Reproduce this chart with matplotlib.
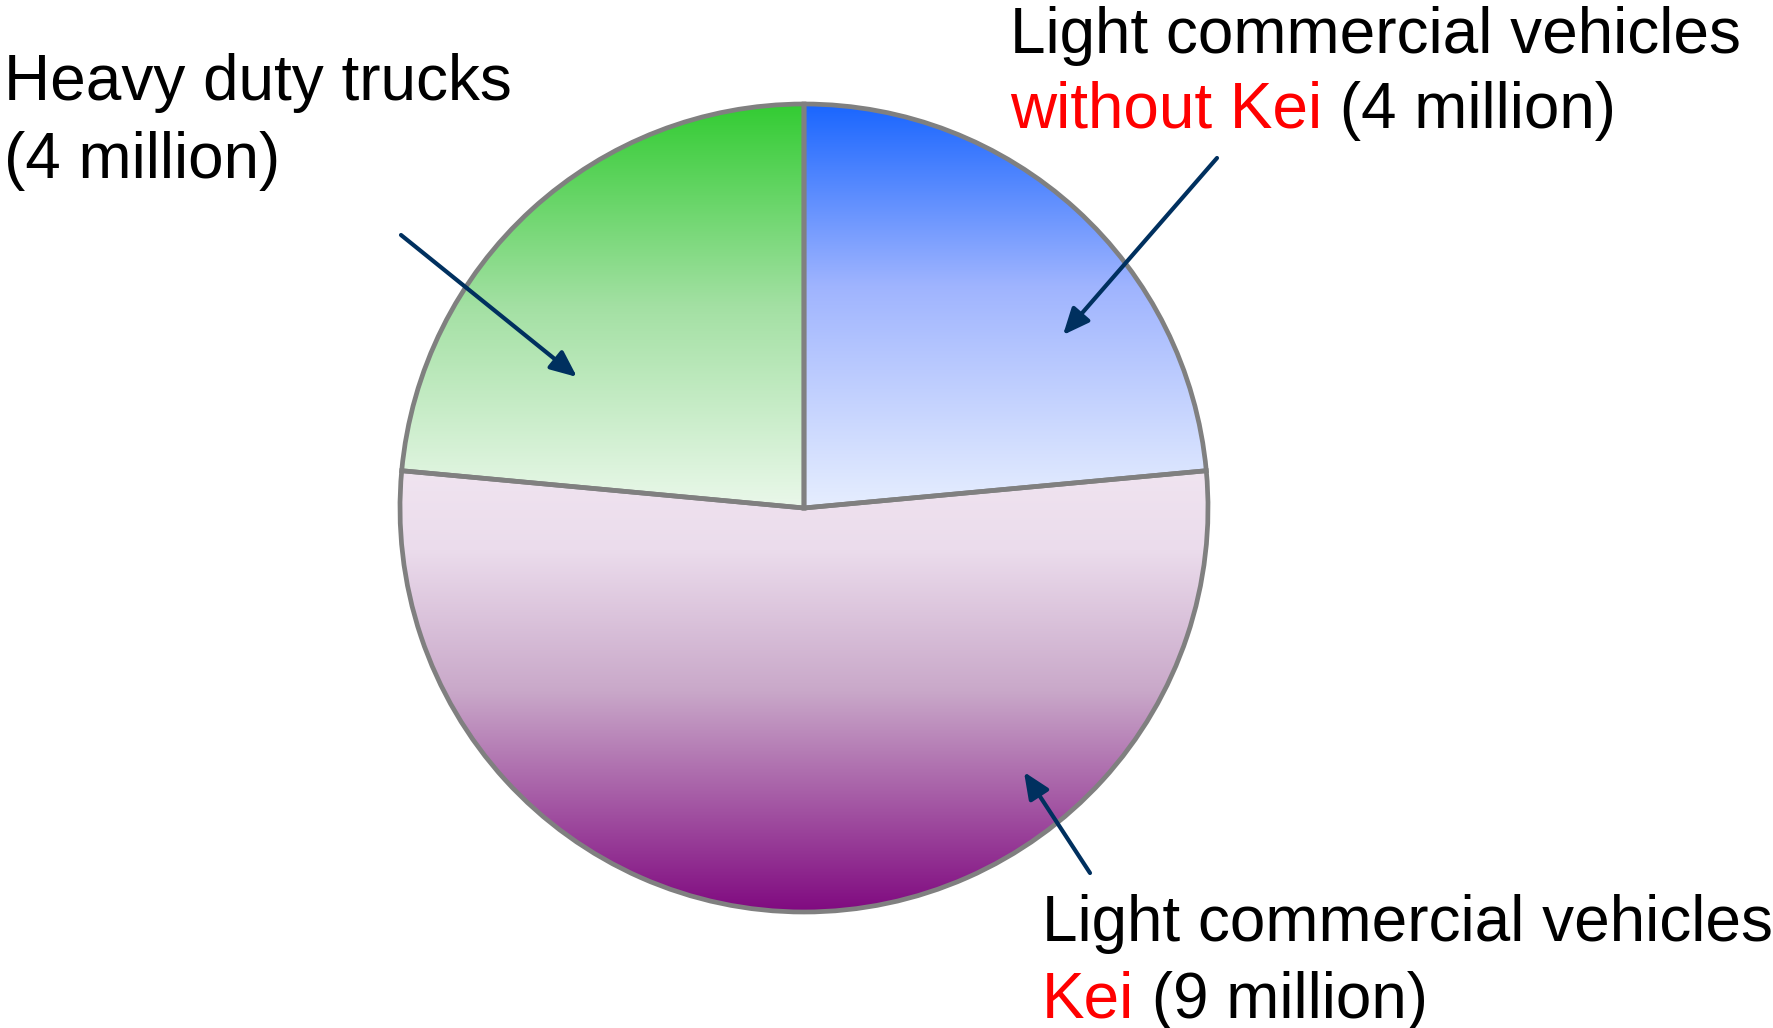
import numpy as np
import matplotlib
matplotlib.use('Agg')
import matplotlib.pyplot as plt
from matplotlib.colors import LinearSegmentedColormap

# vehicle stock, millions (clockwise from the top)
segments = ['Light commercial vehicles without Kei', 'Light commercial vehicles Kei', 'Heavy duty trucks']
values = [4, 9, 4]

# gradient stops per wedge (position, colour), top -> bottom
grad_colors = [
    [(0, '#1a66ff'), (0.45, '#9fb4fe'), (1, '#e6eeff')],
    [(0, '#f0e4f0'), (0.18, '#ebdcec'), (0.5, '#c9a8c9'), (1, '#800a80')],
    [(0, '#33cc33'), (0.5, '#a3e0a3'), (1, '#eaf8ea')],
]

W, H = 1773, 1028
fig = plt.figure(figsize=(W / 100, H / 100), dpi=100)
ax = fig.add_axes([0, 0, 1, 1])

cx, cy, r = 804, H - 508, 404
wedges, _ = ax.pie(values, startangle=90, counterclock=False,
                   center=(cx, cy), radius=r, frame=True,
                   wedgeprops=dict(facecolor='none', edgecolor='#808080', linewidth=3.4))

for w, cols in zip(wedges, grad_colors):
    # vertical gradient clipped to the wedge shape
    bb = w.get_path().get_extents(w.get_transform() - ax.transData)
    cmap = LinearSegmentedColormap.from_list('g', cols)
    grad = np.linspace(0, 1, 256).reshape(-1, 1)
    im = ax.imshow(grad, cmap=cmap, aspect='auto', origin='upper',
                   extent=[bb.x0, bb.x1, bb.y0, bb.y1], zorder=1, interpolation='bilinear')
    im.set_clip_path(w)
    w.set_zorder(2)

ax.set_xlim(0, W)
ax.set_ylim(0, H)
ax.set_aspect('equal')
ax.axis('off')

fs = 46
navy = '#00305f'

def label(x, y, parts):
    # parts: list of (text, color) on one line, drawn one after another
    t = None
    for txt, col in parts:
        if t is None:
            t = ax.text(x, H - y, txt, color=col, fontsize=fs, family='Liberation Sans',
                        va='baseline', ha='left')
        else:
            t = ax.annotate(txt, xycoords=t, xy=(1, 0), va='bottom', ha='left',
                            color=col, fontsize=fs, family='Liberation Sans')
    return t

label(4, 100, [('Heavy duty trucks', 'black')])
label(4, 178, [('(4 million)', 'black')])
label(1010, 53, [('Light commercial vehicles', 'black')])
label(1010, 128, [('without Kei', 'red'), (' (4 million)', 'black')])
label(1042, 941, [('Light commercial vehicles', 'black')])
label(1042, 1018, [('Kei', 'red'), (' (9 million)', 'black')])

arrows = [((401, 235), (577, 377)), ((1217, 158), (1063, 335)), ((1090, 873), (1024, 772))]
for (x0, y0), (x1, y1) in arrows:
    ax.annotate('', xy=(x1, H - y1), xytext=(x0, H - y0),
                arrowprops=dict(arrowstyle='-|>,head_length=1.6,head_width=0.7',
                                color=navy, lw=3, shrinkA=0, shrinkB=0), zorder=5)

fig.savefig('out.png', dpi=100)
